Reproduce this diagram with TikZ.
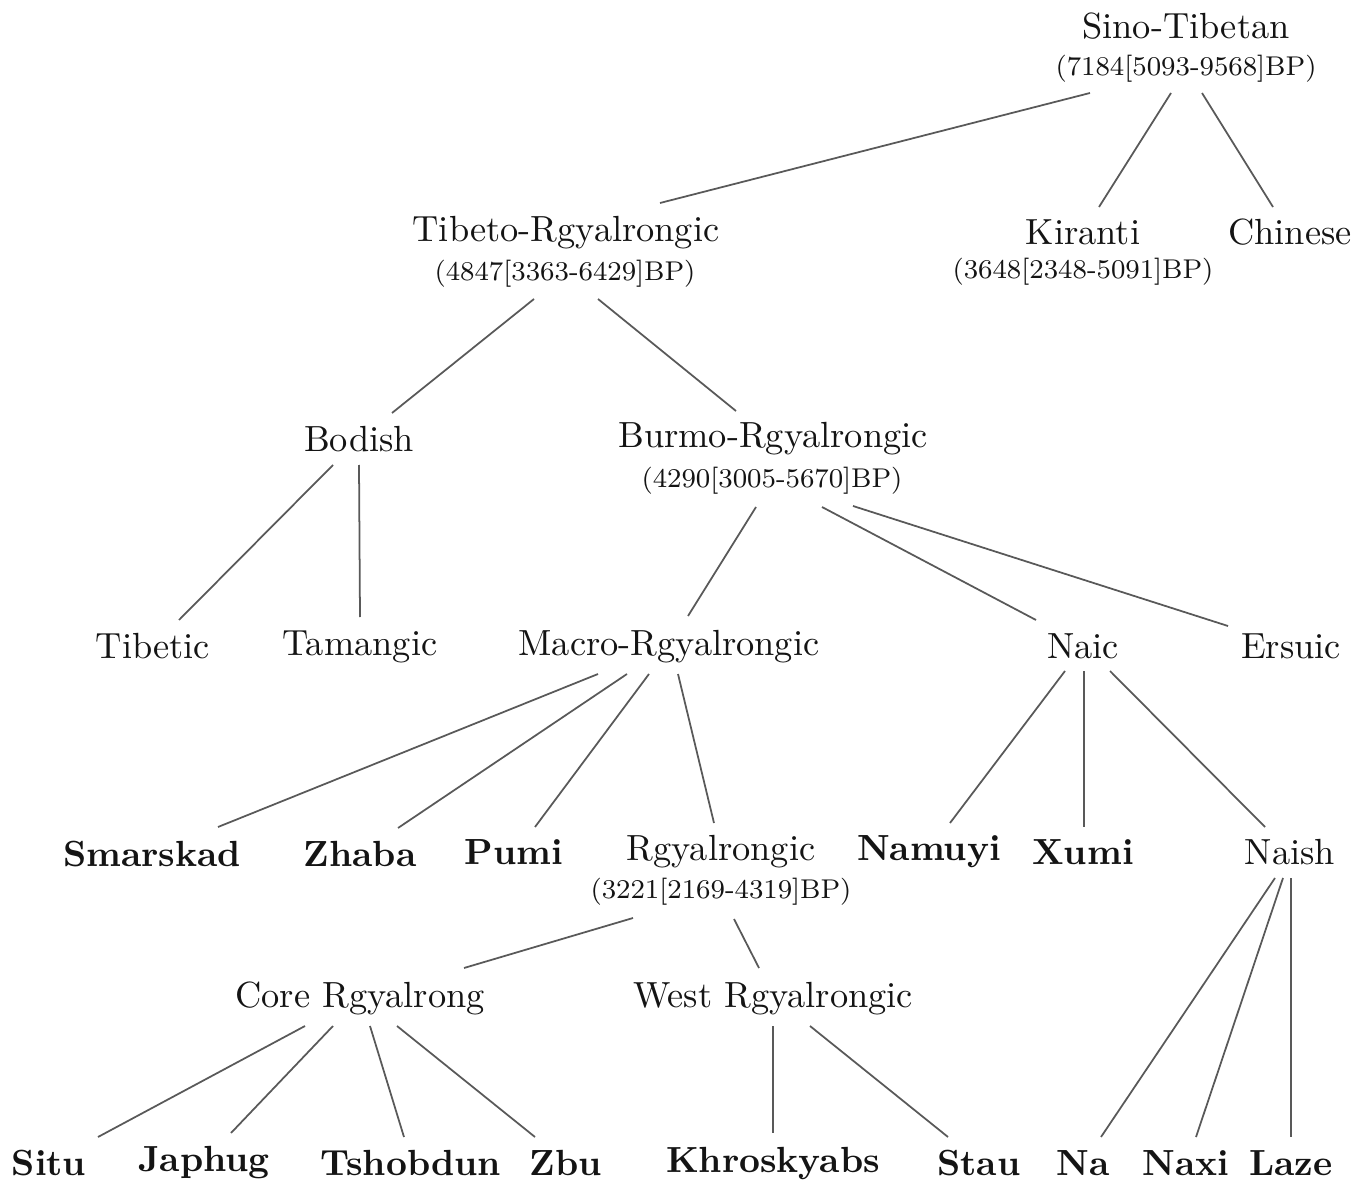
\documentclass[tikz,border=0pt]{standalone}
\usepackage{graphicx}
\usetikzlibrary{calc}
\newcommand\lname[1]{\scalebox{2.07}{\fontsize{10}{12}\selectfont #1}}
\newcommand\lbold[1]{\scalebox{2.07}{\fontsize{10}{12}\selectfont\bfseries #1}}
\newcommand\ldate[1]{\scalebox{1.93}{\fontsize{8}{10}\selectfont #1}}
\tikzset{
  lang/.style={anchor=base, inner sep=0pt, outer sep=0pt, text=black!92},
  link/.style={draw=black!65, line width=1pt}
}
\begin{document}
\begin{tikzpicture}[x=0.02cm, y=-0.02cm]
\useasboundingbox (0,0) rectangle (1366,1182);
% level 0
\node[lang] (st)  at (1186,39) {\lname{Sino-Tibetan}};
\node[lang] (std) at (1186,76) {\ldate{(7184[5093-9568]BP)}};
% level 1
\node[lang] (tr)  at (566,242) {\lname{Tibeto-Rgyalrongic}};
\node[lang] (trd) at (565,281) {\ldate{(4847[3363-6429]BP)}};
\node[lang] (ki)  at (1083,245) {\lname{Kiranti}};
\node[lang] (kid) at (1083,279) {\ldate{(3648[2348-5091]BP)}};
\node[lang] (ch)  at (1290,245) {\lname{Chinese}};
% level 2
\node[lang] (bo)  at (359,452) {\lname{Bodish}};
\node[lang] (bu)  at (773,448) {\lname{Burmo-Rgyalrongic}};
\node[lang] (bud) at (772,487) {\ldate{(4290[3005-5670]BP)}};
% level 3
\node[lang] (ti)  at (153,658) {\lname{Tibetic}};
\node[lang] (ta)  at (360,655) {\lname{Tamangic}};
\node[lang] (ma)  at (669,655) {\lname{Macro-Rgyalrongic}};
\node[lang] (nc)  at (1083,658) {\lname{Naic}};
\node[lang] (er)  at (1291,658) {\lname{Ersuic}};
% level 4
\node[lang] (sm)  at (152,866) {\lbold{Smarskad}};
\node[lang] (zh)  at (360,866) {\lbold{Zhaba}};
\node[lang] (pu)  at (514,864) {\lbold{Pumi}};
\node[lang] (rg)  at (721,860) {\lname{Rgyalrongic}};
\node[lang] (rgd) at (721,898) {\ldate{(3221[2169-4319]BP)}};
\node[lang] (nm)  at (929,860) {\lbold{Namuyi}};
\node[lang] (xu)  at (1083,864) {\lbold{Xumi}};
\node[lang] (ns)  at (1290,864) {\lname{Naish}};
% level 5
\node[lang] (co)  at (360,1007) {\lname{Core Rgyalrong}};
\node[lang] (we)  at (773,1007) {\lname{West Rgyalrongic}};
% level 6
\node[lang] (si)  at (49,1175) {\lbold{Situ}};
\node[lang] (ja)  at (204,1171) {\lbold{Japhug}};
\node[lang] (ts)  at (411,1175) {\lbold{Tshobdun}};
\node[lang] (zb)  at (566,1175) {\lbold{Zbu}};
\node[lang] (kh)  at (773,1172) {\lbold{Khroskyabs}};
\node[lang] (sa)  at (979,1175) {\lbold{Stau}};
\node[lang] (na)  at (1083,1175) {\lbold{Na}};
\node[lang] (nx)  at (1186,1175) {\lbold{Naxi}};
\node[lang] (la)  at (1291,1175) {\lbold{Laze}};
% connectors
\draw[link] ($(std.base)+(-96,17)$) -- ($(tr.base)+(94,-39)$);
\draw[link] ($(std.base)+(-15,17)$) -- ($(ki.base)+(16,-38)$);
\draw[link] ($(std.base)+(16,17)$) -- ($(ch.base)+(-17,-38)$);
\draw[link] ($(trd.base)+(-31,18)$) -- ($(bo.base)+(33,-39)$);
\draw[link] ($(trd.base)+(33,18)$) -- ($(bu.base)+(-37,-37)$);
\draw[link] ($(bo.base)+(-26,13)$) -- ($(ti.base)+(26,-38)$);
\draw[link] ($(bo.base)+(0,13)$) -- ($(ta.base)+(0,-38)$);
\draw[link] ($(bud.base)+(-16,20)$) -- ($(ma.base)+(19,-39)$);
\draw[link] ($(bud.base)+(50,20)$) -- ($(nc.base)+(-47,-38)$);
\draw[link] ($(bud.base)+(81,19)$) -- ($(er.base)+(-63,-32)$);
\draw[link] ($(ma.base)+(-71,19)$) -- ($(sm.base)+(66,-39)$);
\draw[link] ($(ma.base)+(-42,19)$) -- ($(zh.base)+(38,-38)$);
\draw[link] ($(ma.base)+(-20,19)$) -- ($(pu.base)+(21,-37)$);
\draw[link] ($(ma.base)+(9,19)$) -- ($(rg.base)+(-7,-37)$);
\draw[link] ($(nc.base)+(-18,13)$) -- ($(nm.base)+(21,-37)$);
\draw[link] ($(nc.base)+(1,13)$) -- ($(xu.base)+(1,-37)$);
\draw[link] ($(nc.base)+(27,13)$) -- ($(ns.base)+(-25,-37)$);
\draw[link] ($(rgd.base)+(-88,20)$) -- ($(co.base)+(104,-39)$);
\draw[link] ($(rgd.base)+(13,21)$) -- ($(we.base)+(-14,-39)$);
\draw[link] ($(ns.base)+(-15,14)$) -- ($(na.base)+(18,-38)$);
\draw[link] ($(ns.base)+(-7,14)$) -- ($(nx.base)+(10,-38)$);
\draw[link] ($(ns.base)+(1,14)$) -- ($(la.base)+(0,-38)$);
\draw[link] ($(co.base)+(-55,19)$) -- ($(si.base)+(49,-38)$);
\draw[link] ($(co.base)+(-27,19)$) -- ($(ja.base)+(27,-38)$);
\draw[link] ($(co.base)+(10,19)$) -- ($(ts.base)+(-7,-38)$);
\draw[link] ($(co.base)+(37,19)$) -- ($(zb.base)+(-31,-38)$);
\draw[link] ($(we.base)+(0,19)$) -- ($(kh.base)+(0,-39)$);
\draw[link] ($(we.base)+(37,19)$) -- ($(sa.base)+(-31,-38)$);
\end{tikzpicture}
\end{document}
